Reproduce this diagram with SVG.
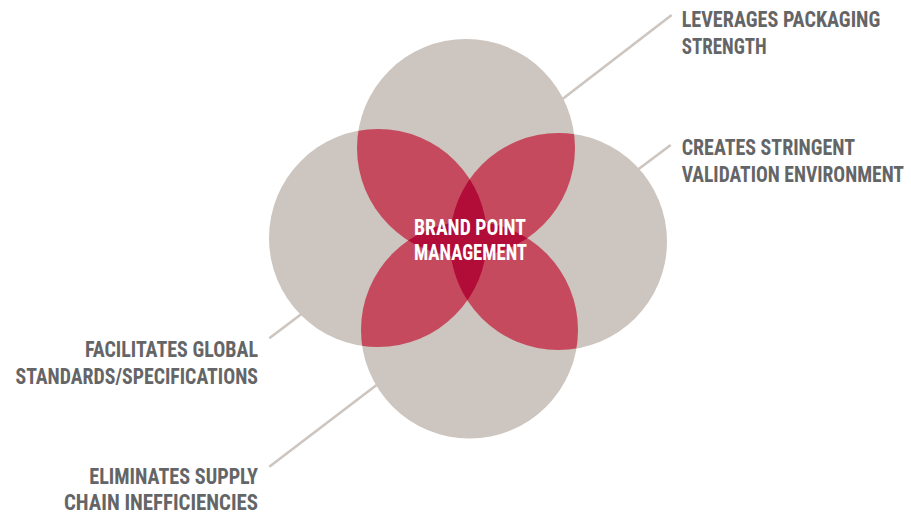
<svg xmlns="http://www.w3.org/2000/svg" xmlns:xlink="http://www.w3.org/1999/xlink" width="911" height="514" viewBox="0 0 911 514">
  <style>
    .disc { fill: #cdc5bf; }
    .pair { fill: #c64a5d; }
    .core { fill: #b20c39; }
    .leader { stroke: #cdc5bf; stroke-width: 2.6; fill: none; stroke-linecap: butt; }
    .label { font-family: "Roboto Condensed", Roboto, "Liberation Sans", sans-serif; font-weight: 700; font-size: 22.5px; fill: #646567; }
    .center { font-family: "Roboto Condensed", Roboto, "Liberation Sans", sans-serif; font-weight: 700; font-size: 21.5px; fill: #ffffff; }
  </style>
  <defs>
    <circle id="cT" cx="466" cy="148" r="109"/>
    <circle id="cR" cx="558.5" cy="241.5" r="108.5"/>
    <circle id="cB" cx="469.5" cy="330" r="108.5"/>
    <circle id="cL" cx="378" cy="238" r="109"/>
    <clipPath id="clipT"><use xlink:href="#cT"/></clipPath>
    <clipPath id="clipR"><use xlink:href="#cR"/></clipPath>
    <clipPath id="clipB"><use xlink:href="#cB"/></clipPath>
  </defs>
  <rect width="911" height="514" fill="#ffffff"/>

  <!-- leader lines run under the discs -->
  <g id="connectors">
    <line class="leader" x1="671.7" y1="15" x2="530" y2="124"/>
    <line class="leader" x1="670.7" y1="145" x2="620" y2="183"/>
    <line class="leader" x1="269.3" y1="338.3" x2="320" y2="300"/>
    <line class="leader" x1="269.3" y1="466.7" x2="395" y2="371"/>
  </g>

  <!-- four discs -->
  <g id="disc-top"><use xlink:href="#cT" class="disc"/></g>
  <g id="disc-right"><use xlink:href="#cR" class="disc"/></g>
  <g id="disc-bottom"><use xlink:href="#cB" class="disc"/></g>
  <g id="disc-left"><use xlink:href="#cL" class="disc"/></g>

  <!-- overlaps of neighbouring discs -->
  <g id="overlaps">
    <use xlink:href="#cL" class="pair" clip-path="url(#clipT)"/>
    <use xlink:href="#cR" class="pair" clip-path="url(#clipT)"/>
    <use xlink:href="#cL" class="pair" clip-path="url(#clipB)"/>
    <use xlink:href="#cR" class="pair" clip-path="url(#clipB)"/>
  </g>

  <!-- overlaps of opposite discs -->
  <g id="core">
    <use xlink:href="#cL" class="core" clip-path="url(#clipR)"/>
    <use xlink:href="#cT" class="core" clip-path="url(#clipB)"/>
  </g>

  <!-- condensed lettering: glyphs narrowed to 75% and fitted to width -->
  <g id="center-label">
    <text class="center" transform="translate(414 234.7) scale(0.75 1)" textLength="149.3" lengthAdjust="spacingAndGlyphs">BRAND POINT</text>
    <text class="center" transform="translate(414 260.3) scale(0.75 1)" textLength="150.7" lengthAdjust="spacingAndGlyphs">MANAGEMENT</text>
  </g>

  <g id="label-packaging">
    <text class="label" transform="translate(681.7 27) scale(0.75 1)" textLength="264.7" lengthAdjust="spacingAndGlyphs">LEVERAGES PACKAGING</text>
    <text class="label" transform="translate(681.7 53.5) scale(0.75 1)" textLength="113.3" lengthAdjust="spacingAndGlyphs">STRENGTH</text>
  </g>

  <g id="label-validation">
    <text class="label" transform="translate(681.7 154.5) scale(0.75 1)" textLength="231.1" lengthAdjust="spacingAndGlyphs">CREATES STRINGENT</text>
    <text class="label" transform="translate(681.7 182) scale(0.75 1)" textLength="296.4" lengthAdjust="spacingAndGlyphs">VALIDATION ENVIRONMENT</text>
  </g>

  <g id="label-standards">
    <text class="label" transform="translate(85 357.3) scale(0.75 1)" textLength="230.7" lengthAdjust="spacingAndGlyphs">FACILITATES GLOBAL</text>
    <text class="label" transform="translate(15.5 383.5) scale(0.75 1)" textLength="323.3" lengthAdjust="spacingAndGlyphs">STANDARDS/SPECIFICATIONS</text>
  </g>

  <g id="label-supply">
    <text class="label" transform="translate(89.3 484.3) scale(0.75 1)" textLength="224.9" lengthAdjust="spacingAndGlyphs">ELIMINATES SUPPLY</text>
    <text class="label" transform="translate(64 510) scale(0.75 1)" textLength="258.7" lengthAdjust="spacingAndGlyphs">CHAIN INEFFICIENCIES</text>
  </g>
</svg>
